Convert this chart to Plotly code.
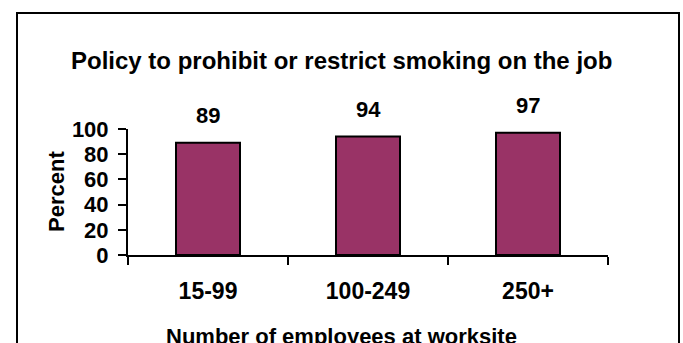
import plotly.graph_objects as go

categories = ["15-99", "100-249", "250+"]
percent = [89, 94, 97]
y_ticks = [0, 20, 40, 60, 80, 100]

title_text = "Policy to prohibit or restrict smoking on the job"
x_title = "Number of employees at worksite"
y_title = "Percent"

FONT = "Liberation Sans, Arial, sans-serif"
W, H = 683, 343
L, R, T, B = 128, 75, 129, 88

fig = go.Figure()
fig.add_trace(go.Bar(
    x=categories, y=percent,
    marker=dict(color="#993366", line=dict(color="black", width=2)),
    width=0.4, hoverinfo="skip",
))

for c, v in zip(categories, percent):
    fig.add_annotation(x=c, y=v, text=f"<b>{v}</b>", showarrow=False,
                       yanchor="bottom", yshift=13,
                       font=dict(family=FONT, size=22, color="black"))

fig.add_annotation(xref="paper", yref="paper", x=(W / 2 - L) / (W - L - R),
                   y=1 + (T - 60) / (H - T - B), text=f"<b>{title_text}</b>",
                   showarrow=False, xanchor="center", yanchor="middle",
                   font=dict(family=FONT, size=24, color="black"))
fig.add_annotation(xref="paper", yref="paper", x=(W / 2 - L) / (W - L - R),
                   y=-(336 - (H - B)) / (H - T - B), text=f"<b>{x_title}</b>",
                   showarrow=False, xanchor="center", yanchor="middle",
                   font=dict(family=FONT, size=22, color="black"))
fig.add_annotation(xref="paper", yref="paper", x=-(L - 56) / (W - L - R),
                   y=0.5, text=f"<b>{y_title}</b>", textangle=-90,
                   showarrow=False, xanchor="center", yanchor="middle",
                   font=dict(family=FONT, size=22, color="black"))

# outer frame (bottom edge runs off the picture)
fig.add_shape(type="rect", xref="paper", yref="paper",
              x0=-(L - 17) / (W - L - R), x1=1 + (679 - (W - R)) / (W - L - R),
              y0=-1.5, y1=1 + (T - 13) / (H - T - B),
              line=dict(color="black", width=2), fillcolor="rgba(0,0,0,0)",
              layer="below")

fig.update_layout(
    width=W, height=H,
    margin=dict(l=L, r=R, t=T, b=B),
    paper_bgcolor="white", plot_bgcolor="white",
    showlegend=False, bargap=0.6,
    font=dict(family=FONT, color="black"),
)
fig.update_xaxes(
    type="category", range=[-0.5, 2.5],
    showline=True, linecolor="black", linewidth=2,
    ticks="outside", tickson="boundaries", ticklen=8, tickwidth=2, tickcolor="black",
    tickfont=dict(family=FONT, size=23, color="black"),
    ticklabelstandoff=14,
    tickvals=categories, ticktext=[f"<b>{c}</b>" for c in categories],
    showgrid=False, zeroline=False,
)
fig.update_yaxes(
    range=[0, 100], tickvals=y_ticks, ticktext=[f"<b>{t}</b>" for t in y_ticks],
    showline=True, linecolor="black", linewidth=2,
    ticks="outside", ticklen=8, tickwidth=2, tickcolor="black",
    tickfont=dict(family=FONT, size=22, color="black"),
    ticklabelstandoff=5,
    showgrid=False, zeroline=False,
)

fig.write_html("out.html", config={"displayModeBar": False},
               post_script="document.body.style.margin='0px';")
